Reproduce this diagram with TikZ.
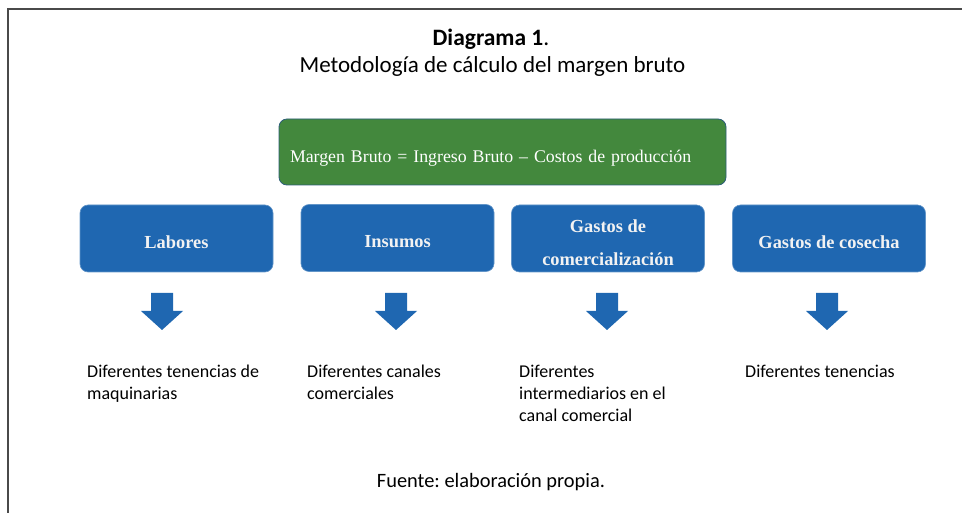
\documentclass[tikz,border=0pt]{standalone}
\usepackage{fontspec}
\setmainfont{Carlito}
\newfontfamily\boxfont{Liberation Serif}
\definecolor{boxgreen}{HTML}{43883D}
\definecolor{boxblue}{HTML}{1F67B1}
\definecolor{edgeblue}{HTML}{2C5E78}
\definecolor{framegray}{HTML}{4A4A4A}
\newcommand{\topstrut}{\rule{0pt}{15pt}}

\begin{document}
\begin{tikzpicture}[x=1pt,y=-1pt,
  cat/.style={rounded corners=8pt,fill=boxblue,draw=boxblue!70!white,line width=.6pt,
    minimum width=193pt,minimum height=67pt,inner sep=0pt,text=white!95!black,
    font=\boxfont\bfseries\fontsize{18.4}{33.3}\selectfont,align=center},
  catone/.style={cat,text height=19.6pt,text depth=0pt},
  desc/.style={anchor=north west,inner sep=0pt,align=left,
    font=\fontsize{18}{21.7}\selectfont}]
\useasboundingbox (0,0) rectangle (962,513);
%================================================================
%	Frame
\draw[framegray,line width=1.3pt] (962,9) -- (8,9) -- (8,513);

%================================================================
%	Title
\node[anchor=base,font=\fontsize{23.5}{28}\selectfont] (t1) at (491,46) {\textbf{Diagrama 1}.};
\node[anchor=base,font=\fontsize{23}{28}\selectfont] (t2) at (492.5,72.7) {Metodolog\'ia de c\'alculo del margen bruto};

%================================================================
%	Margen bruto
\node[rounded corners=8pt,fill=boxgreen,draw=edgeblue,line width=.8pt,
  minimum width=447pt,minimum height=66pt,text width=425pt,inner xsep=11pt,
  text height=22pt,text depth=0pt,text=white,align=left,
  font=\boxfont\fontsize{17.8}{20}\selectfont] (mb) at (502.5,152)
  {Margen Bruto = Ingreso Bruto – Costos de producci\'on};

%================================================================
%	Rubros
\node[catone] (lab) at (176.5,238.5) {Labores};
\node[catone] (ins) at (397.5,238) {Insumos};
\node[cat] (gas) at (608,238.5) {Gastos de\rule{0pt}{21pt}\\comercializaci\'on};
\node[catone] (cos) at (829,238.5) {Gastos de cosecha};
%----------------------------------------------------------------
\foreach \x in {162,396,607,827}
  \fill[boxblue] (\x-11,293) -- (\x+11,293) -- (\x+11,311) -- (\x+21,311)
    -- (\x,330) -- (\x-21,311) -- (\x-11,311) -- cycle;

%================================================================
%	Descripciones
\node[desc] (d1) at (87,362.7) {\topstrut Diferentes tenencias de\\maquinarias};
\node[desc] (d2) at (307,362.7) {\topstrut Diferentes canales\\comerciales};
\node[desc] (d3) at (519,362.7) {\topstrut Diferentes\\intermediarios en el\\canal comercial};
\node[desc] (d4) at (745,362.7) {\topstrut Diferentes tenencias};
%----------------------------------------------------------------
\node[anchor=base,font=\fontsize{20.4}{24}\selectfont] (src) at (491,487.7) {Fuente:\ elaboraci\'on propia.};
%================================================================
\end{tikzpicture}
\end{document}
